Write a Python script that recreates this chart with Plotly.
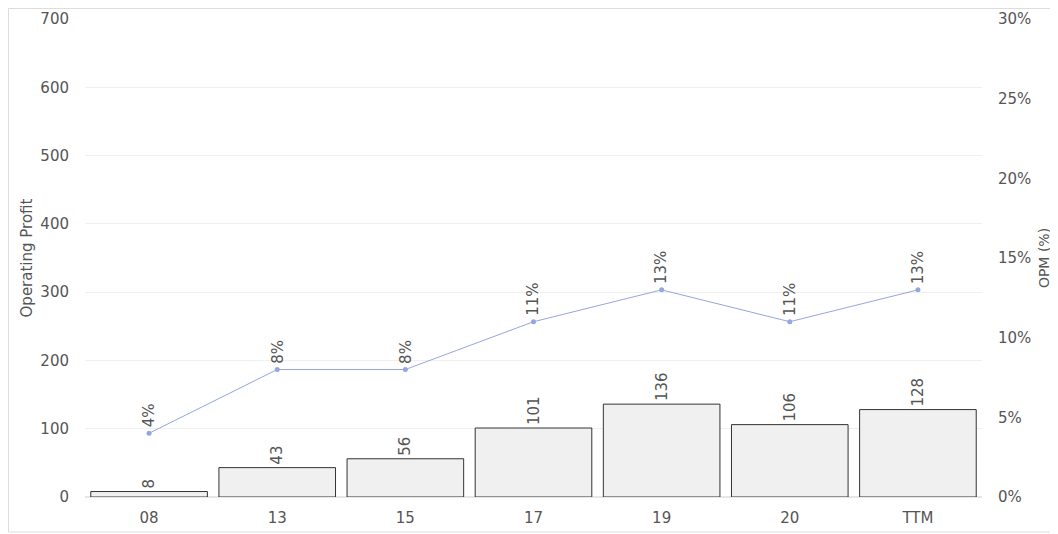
import plotly.graph_objects as go

categories = ["08", "13", "15", "17", "19", "20", "TTM"]
operating_profit = [8, 43, 56, 101, 136, 106, 128]
opm_pct = [4, 8, 8, 11, 13, 11, 13]
left_ticks = [0, 100, 200, 300, 400, 500, 600, 700]
right_ticks = [0, 5, 10, 15, 20, 25, 30]
right_tick_text = [f"{v}%" for v in right_ticks]

FONT = "Verdana, DejaVu Sans, sans-serif"
TXT = "#555555"

fig = go.Figure()
fig.add_trace(go.Bar(
    x=categories, y=operating_profit,
    marker=dict(color="#f0f0f0", line=dict(color="#333333", width=1)),
    text=[str(v) for v in operating_profit],
    textposition="outside", textangle=-90,
    textfont=dict(family=FONT, size=15, color=TXT),
    cliponaxis=False, showlegend=False,
))
fig.add_trace(go.Scatter(
    x=categories, y=opm_pct, yaxis="y2", mode="lines+markers",
    line=dict(color="#94a6de", width=1),
    marker=dict(color="#94a6de", size=5),
    showlegend=False,
))
for i, v in enumerate(opm_pct):
    fig.add_annotation(
        x=i, y=v, xref="x", yref="y2", text=f"{v}%", textangle=-90,
        showarrow=False, yanchor="bottom", yshift=4,
        font=dict(family=FONT, size=15, color=TXT),
    )

# outer frame
fig.add_shape(type="rect", xref="paper", yref="paper",
              x0=-0.0853, x1=1.1, y0=-0.0732, y1=1.0220,
              line=dict(color="#dddddd", width=1), layer="below")

fig.update_layout(
    width=1058, height=534,
    margin=dict(l=77, r=84, t=11, b=45),
    paper_bgcolor="white", plot_bgcolor="white",
    font=dict(family=FONT, size=15, color=TXT),
    bargap=0.09,
    xaxis=dict(type="category", categoryorder="array", categoryarray=categories,
               range=[-0.5, len(categories) - 0.5], automargin=False,
               showgrid=False, showline=False, zeroline=False,
               ticks="outside", ticklen=7, tickcolor="rgba(0,0,0,0)",
               tickfont=dict(size=15, color=TXT)),
    yaxis=dict(range=[0, 700], tickvals=left_ticks, showgrid=True,
               automargin=False,
               gridcolor="#f0f0f0", zeroline=True, zerolinecolor="#e6e6e6",
               showline=False, ticks="outside", ticklen=12,
               tickcolor="rgba(0,0,0,0)", tickfont=dict(size=15, color=TXT),
               title=dict(text="Operating Profit", standoff=4,
                          font=dict(size=15, color=TXT))),
    yaxis2=dict(range=[0, 30], tickvals=right_ticks, ticktext=right_tick_text,
                overlaying="y", side="right", showgrid=False, zeroline=False,
                automargin=False,
                showline=False, ticks="outside", ticklen=12,
                tickcolor="rgba(0,0,0,0)", tickfont=dict(size=15, color=TXT),
                title=dict(text="OPM (%)", standoff=8,
                           font=dict(size=14, color=TXT))),
)

fig.write_html("out.html")
